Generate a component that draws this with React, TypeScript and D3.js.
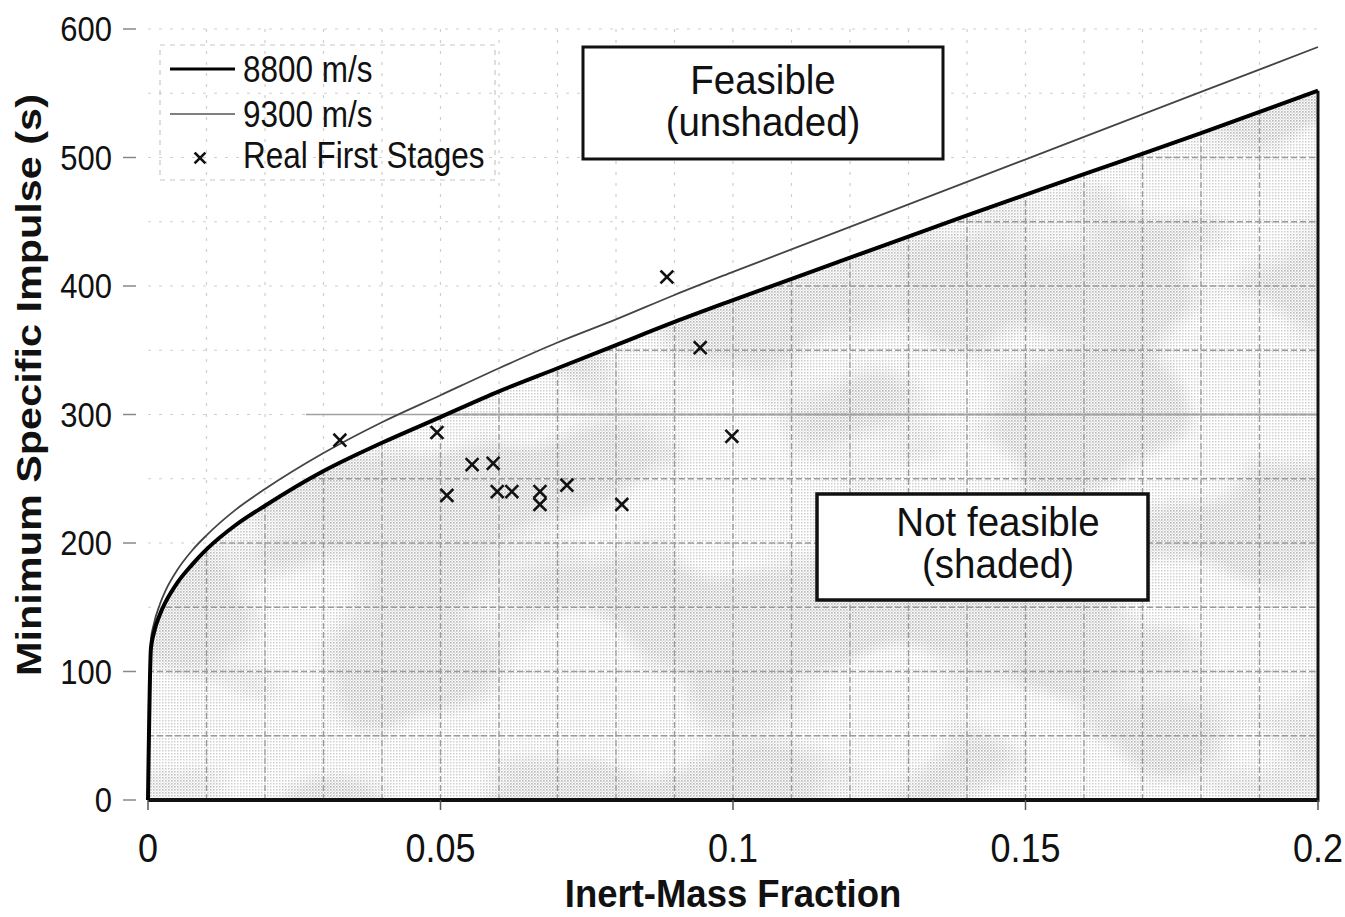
import React from 'react';
import * as d3 from 'd3';

const W = 1345;
const H = 917;

// Curve samples
const fractions = [0, 0.0005, 0.001, 0.002, 0.003, 0.005, 0.0075, 0.01, 0.015, 0.02, 0.03, 0.04, 0.05, 0.06, 0.07, 0.08, 0.09, 0.1, 0.12, 0.14, 0.16, 0.18, 0.2];
const isp8800 = [0, 118, 130, 144, 154, 169, 183, 195, 214, 229, 256, 278, 298, 318, 336, 354, 372, 389, 422, 455, 487, 519, 552];
const isp9300 = [0, 125, 137, 152, 163, 179, 194, 206, 226, 242, 270, 294, 315, 336, 356, 374, 393, 411, 446, 481, 516, 551, 586];

// Real first stages (x markers)
const stageFraction = [0.0328, 0.0494, 0.0554, 0.059, 0.0511, 0.0597, 0.0622, 0.067, 0.067, 0.0716, 0.081, 0.0887, 0.0944, 0.0998];
const stageIsp = [280, 286, 261, 262, 237, 240, 240, 240, 230, 245, 230, 407, 352, 283];

const xTickValues = [0, 0.05, 0.1, 0.15, 0.2];
const xTickLabels = ['0', '0.05', '0.1', '0.15', '0.2'];
const yTickValues = [0, 100, 200, 300, 400, 500, 600];
const yTickLabels = ['0', '100', '200', '300', '400', '500', '600'];
const xGrid = [0.01, 0.02, 0.03, 0.04, 0.05, 0.06, 0.07, 0.08, 0.09, 0.1, 0.11, 0.12, 0.13, 0.14, 0.15, 0.16, 0.17, 0.18, 0.19];
const yGrid = [50, 100, 150, 200, 250, 300, 350, 400, 450, 500, 550, 600];

const legendLabels = ['8800 m/s', '9300 m/s', 'Real First Stages'];

const FONT = '"Liberation Sans", Arial, Helvetica, sans-serif';
const SY = 1.15;

function T({ x, y, size, anchor = 'start', weight = 'normal', children, rotate = false, sy = SY }: any) {
  const tf = rotate
    ? `translate(${x},${y}) rotate(-90) scale(${sy},1)`
    : `translate(${x},${y}) scale(1,${sy})`;
  return (
    <text transform={tf} fontSize={size} fontFamily={FONT} fontWeight={weight} textAnchor={anchor} fill="#111">
      {children}
    </text>
  );
}

function Cross({ cx, cy, r = 5.5 }: any) {
  return (
    <g stroke="#111" strokeWidth={2.6} strokeLinecap="square">
      <line x1={cx - r} y1={cy - r} x2={cx + r} y2={cy + r} />
      <line x1={cx - r} y1={cy + r} x2={cx + r} y2={cy - r} />
    </g>
  );
}

export default function App() {
  const x = d3.scaleLinear().domain([0, 0.2]).range([148, 1318]);
  const y = d3.scaleLinear().domain([0, 600]).range([800, 29]);

  const pts8800 = fractions.map((f, i) => [f, isp8800[i]] as [number, number]);
  const pts9300 = fractions.map((f, i) => [f, isp9300[i]] as [number, number]);

  const line = d3.line<[number, number]>().x(d => x(d[0])).y(d => y(d[1])).curve(d3.curveMonotoneX);
  const area = d3.area<[number, number]>().x(d => x(d[0])).y0(y(0)).y1(d => y(d[1])).curve(d3.curveMonotoneX);
  const areaPath = area(pts8800) || '';

  const gridLines = (stroke: string, dash: string, width: number, prefix: string) => (
    <g stroke={stroke} strokeWidth={width} strokeDasharray={dash} fill="none">
      {xGrid.map(g => (
        <line key={prefix + 'gx' + g} x1={x(g)} x2={x(g)} y1={y(600)} y2={y(0)} />
      ))}
      {yGrid.map(g => (
        <line key={prefix + 'gy' + g} x1={x(0)} x2={x(0.2)} y1={y(g)} y2={y(g)} />
      ))}
    </g>
  );

  return (
    <svg width={W} height={H} viewBox={`0 0 ${W} ${H}`} style={{ position: 'absolute', left: 0, top: 0, background: '#fff' }}>
      <defs>
        <pattern id="dots" width="3" height="3" patternUnits="userSpaceOnUse">
          <rect width="3" height="3" fill="#fff" />
          <rect x="0" y="0" width="1.5" height="1.5" fill="#cfcfcf" />
        </pattern>
        <pattern id="dots2" width="3" height="3" patternUnits="userSpaceOnUse">
          <rect x="1.5" y="1.5" width="1.3" height="1.3" fill="#c4c4c4" />
          <rect x="0" y="0" width="1.5" height="1.5" fill="#b4b4b4" />
        </pattern>
        <filter id="blotch" x="0" y="0" width="100%" height="100%">
          <feTurbulence type="fractalNoise" baseFrequency="0.006 0.009" numOctaves="2" seed="7" result="n" />
          <feColorMatrix in="n" type="matrix" values="0 0 0 0 1  0 0 0 0 1  0 0 0 0 1  0 0 0 -7 4.1" />
        </filter>
        <mask id="blotchMask" maskUnits="userSpaceOnUse" x="0" y="0" width={W} height={H}>
          <rect x="0" y="0" width={W} height={H} fill="#fff" filter="url(#blotch)" />
        </mask>
        <clipPath id="under">
          <path d={areaPath} />
        </clipPath>
      </defs>

      {/* shaded infeasible region */}
      <path d={areaPath} fill="url(#dots)" />
      <g clipPath="url(#under)">
        <rect x={x(0)} y={y(600)} width={x(0.2) - x(0)} height={y(0) - y(600)} fill="url(#dots2)" mask="url(#blotchMask)" opacity={0.85} />
      </g>

      {/* grid: faint everywhere, stronger inside shaded area */}
      {gridLines('#cfcfcf', '3 8', 1.2, 'a')}
      <g clipPath="url(#under)">
        {gridLines('#9a9a9a', '6 3', 1.3, 'b')}
        <line x1={x(0)} x2={x(0.2)} y1={y(300)} y2={y(300)} stroke="#8a8a8a" strokeWidth={1.6} />
      </g>
      <line x1={x(0.027)} x2={x(0.2)} y1={y(300)} y2={y(300)} stroke="#a0a0a0" strokeWidth={1.4} />

      {/* frame of the shaded region */}
      <line x1={x(0)} x2={x(0.2)} y1={y(0)} y2={y(0)} stroke="#111" strokeWidth={4} />
      <line x1={x(0.2)} x2={x(0.2)} y1={y(isp8800[isp8800.length - 1])} y2={y(0) + 2} stroke="#111" strokeWidth={3} />

      {/* y ticks */}
      {yTickValues.map((v, i) => (
        <g key={'yt' + v}>
          <line x1={123} x2={136} y1={y(v)} y2={y(v)} stroke="#888" strokeWidth={1.5} />
          <T x={112} y={y(v) + 12} size={31} anchor="end">{yTickLabels[i]}</T>
        </g>
      ))}

      {/* x ticks */}
      {xTickValues.map((v, i) => (
        <g key={'xt' + v}>
          <line x1={x(v)} x2={x(v)} y1={y(0)} y2={y(0) + 10} stroke="#555" strokeWidth={1.5} />
          <T x={x(v)} y={862} size={36} anchor="middle">{xTickLabels[i]}</T>
        </g>
      ))}

      {/* curves */}
      <path d={line(pts9300) || ''} fill="none" stroke="#444" strokeWidth={1.8} />
      <path d={line(pts8800) || ''} fill="none" stroke="#000" strokeWidth={4} />

      {/* real first stages */}
      {stageFraction.map((f, i) => (
        <Cross key={'s' + i} cx={x(f)} cy={y(stageIsp[i])} />
      ))}

      {/* legend */}
      <rect x={160} y={45} width={335} height={135} fill="none" stroke="#c8c8c8" strokeWidth={1.2} strokeDasharray="5 5" />
      <line x1={170} x2={235} y1={69} y2={69} stroke="#000" strokeWidth={3} />
      <T x={243} y={82} size={31.5}>{legendLabels[0]}</T>
      <line x1={170} x2={235} y1={114} y2={114} stroke="#555" strokeWidth={1.6} />
      <T x={243} y={127} size={31.5}>{legendLabels[1]}</T>
      <Cross cx={200} cy={158} r={4.5} />
      <T x={243} y={168} size={31.5}>{legendLabels[2]}</T>

      {/* annotation boxes */}
      <rect x={583} y={47} width={360} height={112} fill="#fff" stroke="#111" strokeWidth={3} />
      <T x={763} y={94} size={38.5} anchor="middle" sy={1.07}>Feasible</T>
      <T x={763} y={136} size={38.5} anchor="middle" sy={1.07}>(unshaded)</T>

      <rect x={817} y={494} width={331} height={106} fill="#fff" stroke="#111" strokeWidth={3.5} />
      <T x={998} y={536} size={38.5} anchor="middle" sy={1.07}>Not feasible</T>
      <T x={998} y={578} size={38.5} anchor="middle" sy={1.07}>(shaded)</T>

      {/* axis titles */}
      <T x={733} y={907} size={36.5} anchor="middle" weight="bold" sy={1.05}>Inert-Mass Fraction</T>
      <T x={41} y={385} size={36} anchor="middle" weight="bold" rotate>Minimum Specific Impulse (s)</T>
    </svg>
  );
}
